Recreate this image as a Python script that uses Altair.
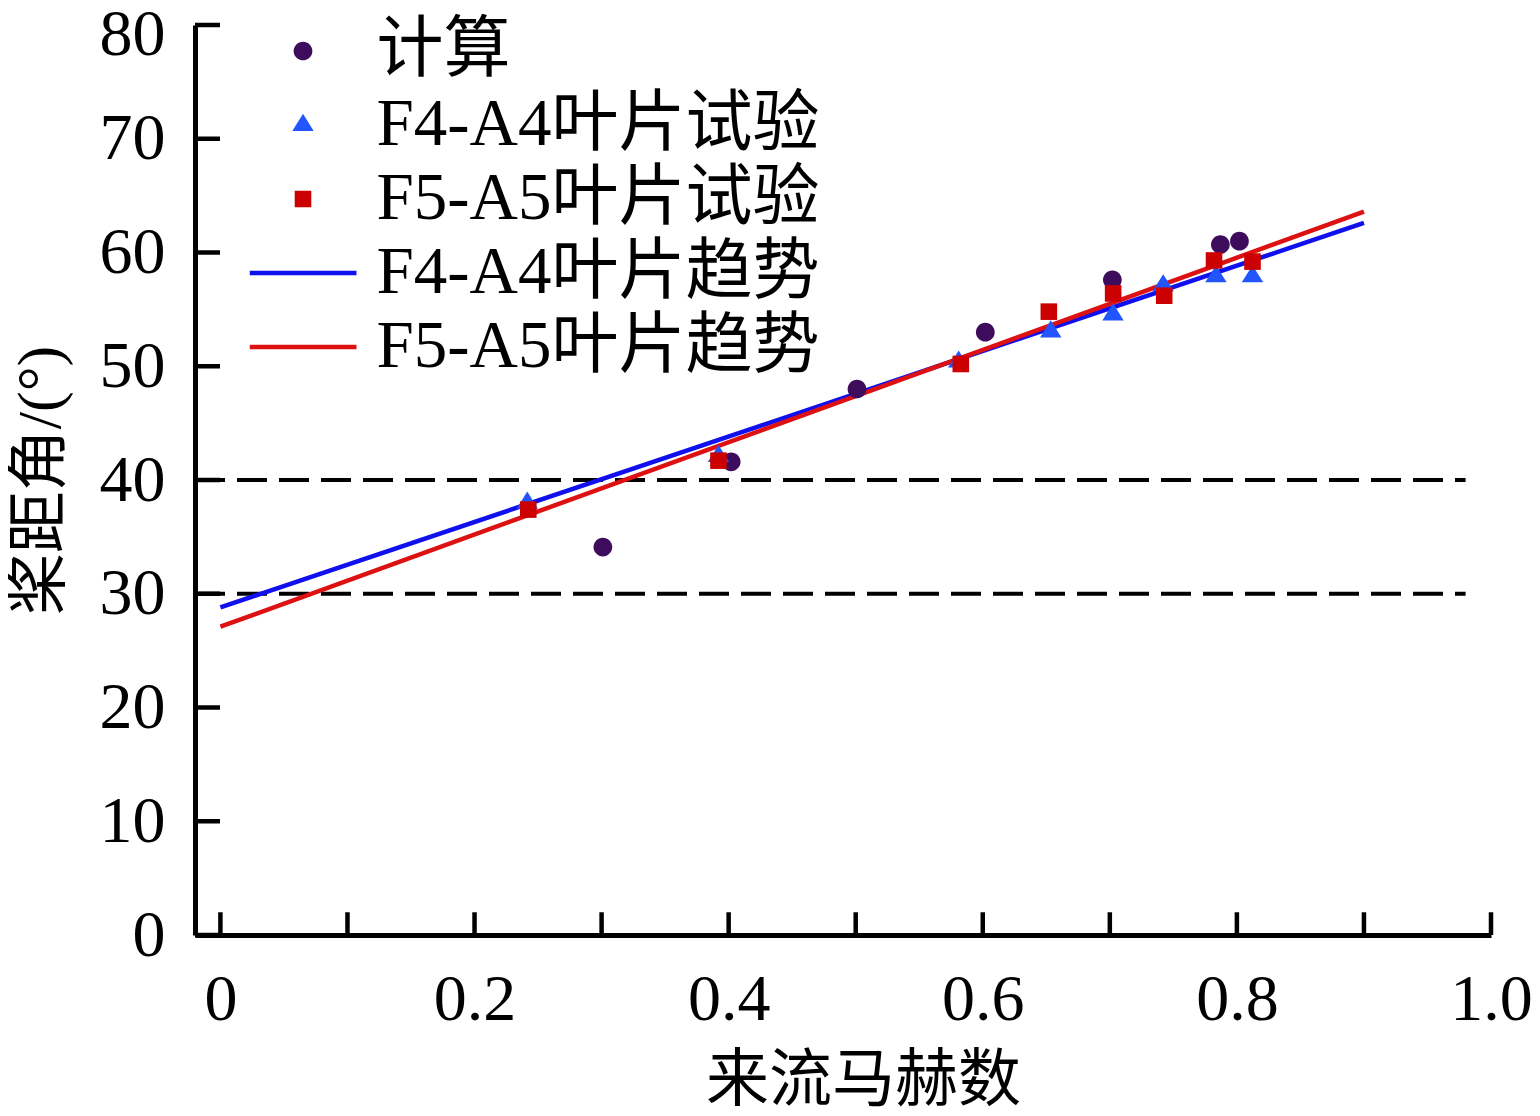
import altair as alt
import pandas as pd

# ---------------- data ----------------
calc_x = [0.301, 0.402, 0.501, 0.602, 0.702, 0.787, 0.802]
calc_y = [34.1, 41.6, 48.0, 53.0, 57.6, 60.7, 61.0]

f4_x = [0.2415, 0.392, 0.581, 0.6535, 0.7025, 0.742, 0.7835, 0.8123]
f4_y = [38.0, 42.1, 50.4, 53.05, 54.55, 57.1, 57.9, 57.9]

f5_x = [0.2423, 0.392, 0.5827, 0.652, 0.7026, 0.7428, 0.782, 0.8123]
f5_y = [37.4, 41.7, 50.2, 54.8, 56.4, 56.2, 59.3, 59.2]

trend_x = [0.0, 0.9]
f4_trend_y = [28.8, 62.6]
f5_trend_y = [27.1, 63.6]

dash_levels = [30, 40]
dash_x_start = -0.02
dash_x_end = 0.98

x_ticks = [0.0, 0.1, 0.2, 0.3, 0.4, 0.5, 0.6, 0.7, 0.8, 0.9, 1.0]
y_ticks = [0, 10, 20, 30, 40, 50, 60, 70, 80]

series_names = ["计算", "F4-A4叶片试验", "F5-A5叶片试验", "F4-A4叶片趋势", "F5-A5叶片趋势"]

# ---------------- styles ----------------
SERIF = "Liberation Serif, Noto Sans CJK SC"
colors = ["#3d0c5c", "#2355ff", "#cc0000", "#1010ee", "#dd1111"]
SYM = 11449  # symbol area; shapes below are drawn inside the unit box
CIRCLE = "M0,-0.175A0.175,0.175,0,1,1,0,0.175A0.175,0.175,0,1,1,0,-0.175Z"
TRI = "M0,-0.21L0.2,0.11L-0.2,0.11Z"
SQUARE = "M-0.155,-0.155L0.155,-0.155L0.155,0.155L-0.155,0.155Z"
LINE = "M-1,-0.04L1,-0.04L1,0.04L-1,0.04Z"
shapes = [CIRCLE, TRI, SQUARE, LINE, LINE]

X_MIN, X_MAX = -0.02, 1.0
Y_MIN, Y_MAX = 0, 80
X_TICK_LEN = 2.0     # inward tick length of the x axis, in y units
Y_TICK_LEN = 0.0197  # inward tick length of the y axis, in x units

pts = pd.concat([
    pd.DataFrame({"x": calc_x, "y": calc_y, "series": series_names[0]}),
    pd.DataFrame({"x": f4_x, "y": f4_y, "series": series_names[1]}),
    pd.DataFrame({"x": f5_x, "y": f5_y, "series": series_names[2]}),
], ignore_index=True)

trend = pd.concat([
    pd.DataFrame({"x": trend_x, "y": f4_trend_y, "series": series_names[3]}),
    pd.DataFrame({"x": trend_x, "y": f5_trend_y, "series": series_names[4]}),
], ignore_index=True)

dash = pd.DataFrame({"yv": dash_levels, "x0": dash_x_start, "x1": dash_x_end})
xt = pd.DataFrame({"v": x_ticks, "y0": Y_MIN, "y1": Y_MIN + X_TICK_LEN})
yt = pd.DataFrame({"v": y_ticks, "x0": X_MIN, "x1": X_MIN + Y_TICK_LEN})

xscale = alt.Scale(domain=[X_MIN, X_MAX], nice=False, zero=False)
yscale = alt.Scale(domain=[Y_MIN, Y_MAX], nice=False, zero=False)

xaxis = alt.Axis(
    values=x_ticks,
    labelExpr="abs(round(datum.value*10)) % 2 == 0 ? (datum.value == 0 ? '0' : format(datum.value, '.1f')) : ''",
    ticks=False,
    domainColor="black", domainWidth=5,
    labelFont=SERIF, labelFontSize=66, labelColor="black", labelPadding=32,
    labelFlush=False, labelOverlap=False, grid=False,
    title="来流马赫数", titleFont=SERIF, titleFontSize=63, titleFontWeight="normal",
    titleColor="black", titleX=668, titleY=145, titleBaseline="middle", titleAlign="center",
)
yaxis = alt.Axis(
    values=y_ticks, format="d",
    ticks=False,
    domainColor="black", domainWidth=5,
    labelFont=SERIF, labelFontSize=66, labelColor="black", labelPadding=30,
    labelOffset={"condition": {"test": "datum.value == 80", "value": 9}, "value": 0},
    labelFlush=False, labelOverlap=False, grid=False,
    title="桨距角/(°)", titleFont=SERIF, titleFontSize=62, titleFontWeight="normal",
    titleColor="black", titleX=-155, titleY=455, titleBaseline="middle", titleAlign="center",
    titleAngle=270,
)

color_scale = alt.Scale(domain=series_names, range=colors)
shape_scale = alt.Scale(domain=series_names, range=shapes)
stroke_scale = alt.Scale(domain=series_names[3:], range=colors[3:])

legend = alt.Legend(
    title=None, orient="none", legendX=54.5, legendY=-11,
    direction="vertical", columns=1,
    clipHeight=74, rowPadding=0, padding=0,
    symbolSize=SYM, symbolOffset=0, symbolStrokeWidth=0,
    labelOffset=20, labelFont=SERIF, labelFontSize=67, labelColor="black",
    labelLimit=1000,
)


def X(field):
    return alt.X(field, scale=xscale, axis=xaxis)


def Y(field):
    return alt.Y(field, scale=yscale, axis=yaxis)


dash_layer = alt.Chart(dash).mark_rule(
    color="black", strokeWidth=4, strokeDash=[30, 12]
).encode(x=X("x0:Q"), x2="x1:Q", y=Y("yv:Q"))

xtick_layer = alt.Chart(xt).mark_rule(color="black", strokeWidth=4.5).encode(
    x=X("v:Q"), y=Y("y0:Q"), y2="y1:Q"
)

ytick_layer = alt.Chart(yt).mark_rule(color="black", strokeWidth=4.5).encode(
    x=X("x0:Q"), x2="x1:Q", y=Y("v:Q")
)

trend_layer = alt.Chart(trend).mark_line(strokeWidth=4.5).encode(
    x=X("x:Q"),
    y=Y("y:Q"),
    stroke=alt.Stroke("series:N", scale=stroke_scale, legend=None),
    detail="series:N",
)

point_layer = alt.Chart(pts).mark_point(
    filled=True, opacity=1, size=SYM, strokeWidth=0
).encode(
    x=X("x:Q"),
    y=Y("y:Q"),
    color=alt.Color("series:N", scale=color_scale, legend=legend),
    shape=alt.Shape("series:N", scale=shape_scale, legend=legend),
)

chart = alt.layer(
    dash_layer, xtick_layer, ytick_layer, trend_layer, point_layer
).properties(
    width=1296, height=910,
    autosize=alt.AutoSizeParams(type="none"),
    padding={"left": 187, "top": 17, "right": 41, "bottom": 180},
    background="white",
).configure_view(strokeWidth=0)

chart.save("out.html", embed_options={"renderer": "svg", "actions": False})
